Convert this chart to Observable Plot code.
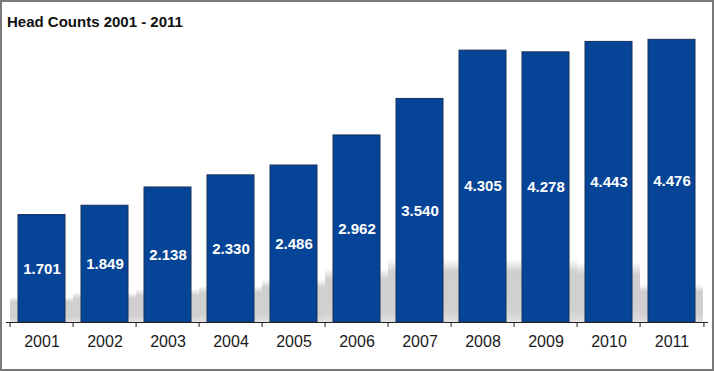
<!DOCTYPE html>
<html>
<head>
<meta charset="utf-8">
<script src="https://cdn.jsdelivr.net/npm/d3@7"></script>
<script src="https://cdn.jsdelivr.net/npm/@observablehq/plot@0.6"></script>
<style>
  html, body { margin: 0; padding: 0; background: #fff; }
  #frame {
    position: relative; width: 714px; height: 371px; box-sizing: border-box;
    border: 2px solid #7a7a7a; background: #fff; overflow: hidden;
    font-family: "Liberation Sans", Arial, sans-serif;
  }
  #title {
    position: absolute; left: 5px; top: 11px; font-size: 15px; font-weight: bold;
    color: #111; white-space: nowrap;
  }
  #chart { position: absolute; left: 0; top: 0; }
</style>
</head>
<body>
<div id="frame">
  <div id="chart"></div>
  <div id="title">Head Counts 2001 - 2011</div>
</div>
<script>
const years = ["2001","2002","2003","2004","2005","2006","2007","2008","2009","2010","2011"];
const headCounts = [1.701, 1.849, 2.138, 2.330, 2.486, 2.962, 3.540, 4.305, 4.278, 4.443, 4.476];
const valueLabels = ["1.701","1.849","2.138","2.330","2.486","2.962","3.540","4.305","4.278","4.443","4.476"];
// decorative floor reflection height behind the bars (same units as head counts)
const shadowHeights = [0.40, 0.47, 0.53, 0.58, 0.68, 0.85, 1.0, 1.0, 1.0, 0.95, 0.6];

const data = years.map((y, i) => ({year: y, value: headCounts[i], label: valueLabels[i], shadow: shadowHeights[i]}));

const W = 710, H = 367, mL = 4, mR = 4;
const step = (W - mL - mR) / years.length;

const plot = Plot.plot({
  width: W, height: H,
  marginLeft: mL, marginRight: mR, marginTop: 29.5, marginBottom: 47,
  style: {fontFamily: "'Liberation Sans', Arial, sans-serif", background: "transparent"},
  x: {domain: years, paddingInner: 0.25, paddingOuter: 0.125, label: null},
  y: {domain: [0, 4.6], axis: null},
  marks: [
    Plot.barY(data, {x: "year", y: "shadow", fill: "url(#shadowGrad)", insetLeft: -step * 0.125, insetRight: -step * 0.125}),
    Plot.barY(data, {x: "year", y: "value", fill: "#054496", stroke: "#16305c", strokeWidth: 1}),
    Plot.text(data, {x: "year", y: d => d.value / 2, text: "label", fill: "white", fontWeight: "bold", fontSize: 15}),
    Plot.ruleY([0], {stroke: "#222", strokeWidth: 1.2}),
    Plot.axisX({tickSize: 5, text: null, dx: -step / 2, stroke: "#222"}),
    Plot.axisX({ticks: [years[years.length - 1]], tickSize: 5, text: null, dx: step / 2, stroke: "#222"}),
    Plot.axisX({tickSize: 0, tickPadding: 13, fontSize: 16, fill: "#1a1a1a", label: null})
  ]
});

const ns = "http://www.w3.org/2000/svg";
const defs = document.createElementNS(ns, "defs");
defs.innerHTML = `<linearGradient id="shadowGrad" x1="0" y1="0" x2="0" y2="1">
  <stop offset="0" stop-color="#d4d4d4" stop-opacity="0"/>
  <stop offset="0.2" stop-color="#cfcfcf" stop-opacity="1"/>
  <stop offset="0.8" stop-color="#d0d0d0" stop-opacity="1"/>
  <stop offset="1" stop-color="#e0e0e0" stop-opacity="1"/>
</linearGradient>`;
plot.insertBefore(defs, plot.firstChild);
document.getElementById("chart").appendChild(plot);
</script>
</body>
</html>
